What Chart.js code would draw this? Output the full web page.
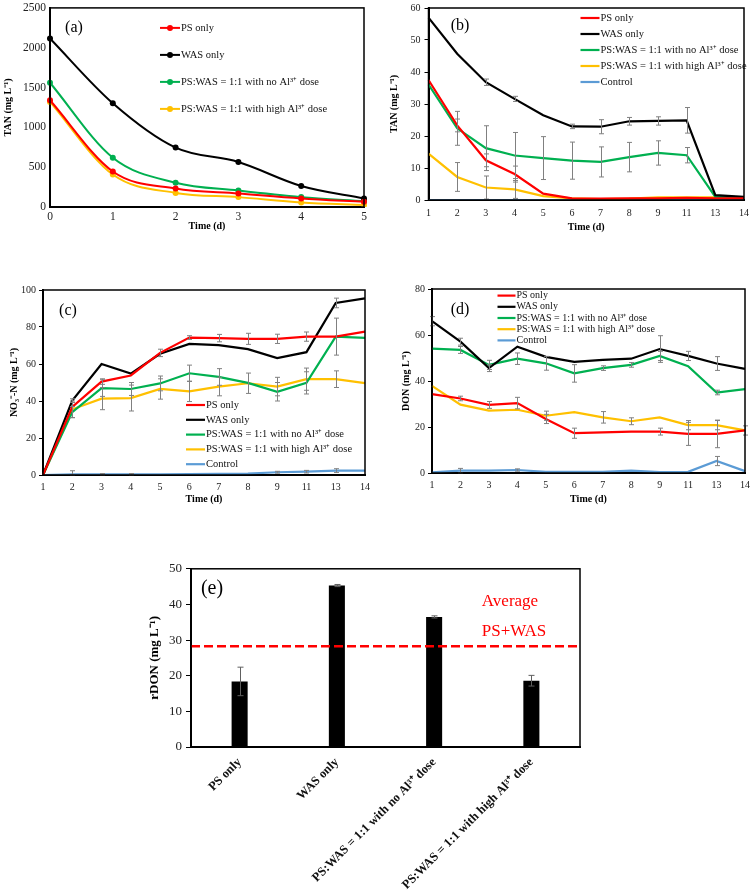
<!DOCTYPE html>
<html><head><meta charset="utf-8">
<script src="https://cdn.jsdelivr.net/npm/chart.js@4.4.1/dist/chart.umd.min.js"></script>
<style>
html,body{margin:0;padding:0;background:#fff;width:756px;height:891px;overflow:hidden;position:relative;}
canvas{position:absolute;}
.lbl{position:absolute;font-family:"Liberation Serif","Times New Roman",serif;color:#000;white-space:nowrap;line-height:1;transform:translate(-50%,-50%);}
</style></head><body>
<canvas id="ca" width="372" height="235" style="left:0px;top:-3px"></canvas>
<canvas id="cb" width="368" height="235" style="left:388px;top:-2px"></canvas>
<canvas id="cc" width="368" height="224" style="left:8px;top:281px"></canvas>
<canvas id="cd" width="356" height="225" style="left:400px;top:280px"></canvas>
<canvas id="ce" width="441" height="334" style="left:147px;top:557px"></canvas>
<div class="lbl" style="left:74px;top:27px;font-size:16px">(a)</div>
<div class="lbl" style="left:460px;top:25px;font-size:16px">(b)</div>
<div class="lbl" style="left:68px;top:310px;font-size:16px">(c)</div>
<div class="lbl" style="left:460px;top:309px;font-size:16px">(d)</div>
<div class="lbl" style="left:212px;top:587px;font-size:20px">(e)</div>
<div class="lbl" style="left:510px;top:600px;font-size:17px;color:#ff0000">Average</div>
<div class="lbl" style="left:514px;top:630px;font-size:17px;color:#ff0000">PS+WAS</div>
<script>
const FONT = '"Liberation Serif", "Times New Roman", Times, serif';
const C_PS = '#FF0000', C_WAS = '#000000', C_NOAL = '#00B050', C_HIGH = '#FFC000', C_CTRL = '#5B9BD5';
const seriesNames = ['PS only', 'WAS only', 'PS:WAS = 1:1 with no Al³⁺ dose', 'PS:WAS = 1:1 with high Al³⁺ dose', 'Control'];

// (a) TAN, days 0-5
const aDays = ['0', '1', '2', '3', '4', '5'];
const aPS = [1340, 446, 231, 170, 108, 66];
const aWAS = [2116, 1303, 746, 565, 264, 107];
const aNoAl = [1560, 619, 305, 206, 124, 74];
const aHighAl = [1320, 408, 177, 124, 58, 25];

// shared day categories for (b)(c)(d)
const days = ['1', '2', '3', '4', '5', '6', '7', '8', '9', '11', '13', '14'];

// (b) TAN
const bPS = [37.5, 23.3, 12.4, 8.1, 2.0, 0.5, 0.4, 0.5, 0.5, 0.7, 0.5, 0.5];
const bWAS = [57, 45.7, 36.8, 31.6, 26.5, 23.0, 22.9, 24.6, 24.7, 24.9, 1.5, 1.0];
const bNoAl = [36.1, 22.4, 16.2, 13.9, 13.1, 12.3, 11.9, 13.4, 14.7, 14.0, 1.0, 0.8];
const bHighAl = [14.5, 7.2, 3.9, 3.3, 1.2, 0.5, 0.3, 0.4, 0.8, 0.8, 0.8, 0.8];
const bCtrl = [0, 0, 0, 0, 0, 0, 0, 0, 0, 0, 0, 0];
const bPSErr = [null, 2, 2, 2.5, null, null, null, null, null, null, null, null];
const bWASErr = [null, null, 1, 0.8, null, 0.7, 2.2, 1.2, 1.3, 4, null, null];
const bNoAlErr = [null, 5.3, 7, 7.2, 6.7, 5.8, 4.7, 4.6, 3.8, 2.4, null, null];
const bHighAlErr = [null, 4.5, 3.6, 2.8, null, null, null, null, null, null, null, null];

// (c) NO3-N
const cPS = [0, 36.8, 50.5, 53.8, 66, 74.3, 74.0, 73.6, 73.6, 74.8, 74.8, 77.5];
const cWAS = [0, 40.2, 60, 54.8, 65.5, 70.9, 70.2, 68, 63.2, 66.4, 93, 95.5];
const cNoAl = [0, 34, 47, 46.5, 49.5, 55, 53, 49.8, 45, 49.8, 74.8, 74.1];
const cHighAl = [0, 35.5, 41.3, 41.6, 46.5, 45.2, 47.8, 49.6, 47.8, 51.8, 51.8, 49.7];
const cCtrl = [0, 0.3, 0.3, 0.3, 0.4, 0.5, 0.6, 0.7, 1.5, 1.8, 2.4, 2.4];
const cPSErr = [null, null, 1.5, null, 2, 1, 2, 3, 2.5, 2.5, null, null];
const cWASErr = [null, 1, null, null, null, null, null, null, null, null, 2.6, null];
const cNoAlErr = [null, 3, 4.5, 3.5, 4, 4.4, 4.5, null, 5, 6, 10, null];
const cHighAlErr = [null, 4.5, 6, 7, 5.5, 5.5, 5, 5.5, 5, 6, 4.5, null];
const cCtrlErr = [null, 2, 0.5, 0.5, null, null, null, null, 0.5, 0.7, 1, null];

// (d) DON
const dPS = [34.3, 32.4, 29.6, 30.4, 23.5, 17.3, 17.7, 18, 18, 17, 17, 18.5];
const dWAS = [66, 57.1, 45.6, 54.9, 50.5, 48.3, 49.2, 49.7, 53.9, 50.9, 47.6, 45.3];
const dNoAl = [54.1, 53.5, 47, 49.7, 47.7, 43.3, 45.6, 47, 50.9, 46.4, 35, 36.5];
const dHighAl = [37.9, 29.7, 27.1, 27.5, 24.9, 26.5, 24.2, 22.5, 24.2, 20.8, 20.8, 18.5];
const dCtrl = [0.3, 1, 1, 1.3, 0.5, 0.5, 0.5, 1, 0.4, 0.5, 5.2, 0.8];
const dPSErr = [null, 1, 1.5, 2.5, 2, 2.2, null, null, 1.5, 5, 6, null];
const dWASErr = [2, 1.5, 1.5, null, null, null, null, null, 5.8, 2, 3, null];
const dNoAlErr = [null, 1.5, 2, 2.5, 3, 3.8, 1, 1, 2, null, 1, null];
const dHighAlErr = [null, null, null, null, 2, null, 2.5, 1.5, null, 2, 2, 2];
const dCtrlErr = [null, 1, null, 0.5, null, null, null, null, null, null, 2, null];

// (e) rDON
const eCats = ['PS only', 'WAS only', 'PS:WAS = 1:1 with no Al³⁺ dose', 'PS:WAS = 1:1 with high Al³⁺ dose'];
const eVals = [18.4, 45.3, 36.5, 18.6];
const eErr = [4, 0.3, 0.3, 1.5];
const eAvg = 28.3;

// ---------- plugins ----------
const boxPlug = {
  id: 'boxPlug',
  afterDraw(chart) {
    const { ctx, chartArea: a } = chart;
    ctx.save(); ctx.strokeStyle = '#000'; ctx.lineWidth = 1.5;
    ctx.strokeRect(a.left, a.top, a.right - a.left, a.bottom - a.top);
    ctx.restore();
  }
};
const custLegend = {
  id: 'custLegend',
  afterDraw(chart, args, o) {
    if (!o || o.x === undefined) return;
    const { ctx, chartArea: a } = chart;
    ctx.save();
    ctx.font = o.font; ctx.textBaseline = 'middle'; ctx.textAlign = 'left';
    chart.data.datasets.forEach((ds, i) => {
      const y = a.top + o.y + i * o.gap;
      const x0 = a.left + o.x;
      ctx.strokeStyle = ds.borderColor; ctx.lineWidth = o.lw;
      ctx.beginPath(); ctx.moveTo(x0, y); ctx.lineTo(x0 + o.len, y); ctx.stroke();
      if (o.marker) {
        ctx.fillStyle = ds.borderColor; ctx.beginPath();
        ctx.arc(x0 + o.len / 2, y, o.marker, 0, Math.PI * 2); ctx.fill();
      }
      ctx.fillStyle = '#111'; ctx.fillText(ds.label, x0 + o.len + o.pad, y);
    });
    ctx.restore();
  }
};
const errBars = {
  id: 'errBars',
  afterDatasetsDraw(chart, args, o) {
    if (!o || !o.sets) return;
    const { ctx } = chart; const ys = chart.scales.y;
    ctx.save(); ctx.strokeStyle = o.color; ctx.lineWidth = o.lw || 1;
    o.sets.forEach((errs, i) => {
      if (!errs) return;
      const meta = chart.getDatasetMeta(i); const data = chart.data.datasets[i].data;
      errs.forEach((e, j) => {
        if (e == null) return;
        const el = meta.data[j]; const x = Math.round(el.x) + 0.5;
        const y1 = ys.getPixelForValue(data[j] + e);
        const y2 = ys.getPixelForValue(Math.max(data[j] - e, ys.min));
        ctx.beginPath();
        ctx.moveTo(x, y1); ctx.lineTo(x, y2);
        ctx.moveTo(x - o.cap, y1); ctx.lineTo(x + o.cap, y1);
        ctx.moveTo(x - o.cap, y2); ctx.lineTo(x + o.cap, y2);
        ctx.stroke();
      });
    });
    ctx.restore();
  }
};
const avgLine = {
  id: 'avgLine',
  afterDatasetsDraw(chart, args, o) {
    if (!o || o.value === undefined) return;
    const { ctx, chartArea: a } = chart; const y = chart.scales.y.getPixelForValue(o.value);
    ctx.save(); ctx.strokeStyle = '#FF0000'; ctx.lineWidth = 2.5; ctx.setLineDash([9, 4]);
    ctx.beginPath(); ctx.moveTo(a.left, y); ctx.lineTo(a.right, y); ctx.stroke();
    ctx.restore();
  }
};

function axisTitle(text, size) {
  return { display: true, text, font: { family: FONT, size, weight: 'bold' }, color: '#000', padding: 0 };
}
const plainNum = v => String(v);

function linePanel(id, labels, sets, cfg) {
  return new Chart(document.getElementById(id), {
    type: 'line',
    data: {
      labels,
      datasets: sets.map(s => ({
        label: s.label, data: s.data, borderColor: s.color, backgroundColor: s.color,
        borderWidth: cfg.lw, pointRadius: cfg.pr || 0, pointHoverRadius: 0,
        pointBackgroundColor: s.color, pointBorderWidth: 0, fill: false,
        tension: cfg.smooth ? 0.4 : 0, cubicInterpolationMode: cfg.smooth ? 'monotone' : 'default'
      }))
    },
    options: {
      responsive: false, animation: false, events: [],
      layout: { padding: cfg.pad },
      plugins: {
        legend: { display: false }, tooltip: { enabled: false },
        custLegend: cfg.legend,
        errBars: { sets: sets.map(s => s.err || null), color: '#808080', cap: 2.5, lw: 1 }
      },
      scales: {
        x: {
          type: 'category', offset: false,
          afterFit: s => { s.height = cfg.xH; },
          grid: { display: false, drawTicks: false },
          border: { display: true, color: '#000', width: 2 },
          ticks: { font: { family: FONT, size: cfg.tick }, color: '#222', padding: cfg.xPad, maxRotation: 0, autoSkip: false },
          title: axisTitle('Time (d)', 10)
        },
        y: {
          min: cfg.yMin, max: cfg.yMax,
          afterFit: s => { s.width = cfg.yW; },
          grid: { display: cfg.yTick > 0, drawOnChartArea: false, drawTicks: cfg.yTick > 0, tickLength: cfg.yTick, color: '#000', lineWidth: 1 },
          border: { display: true, color: '#000', width: 2 },
          ticks: { stepSize: cfg.yStep, font: { family: FONT, size: cfg.tick }, color: '#222', padding: cfg.yPad, callback: plainNum },
          title: axisTitle(cfg.yTitle, 10)
        }
      }
    },
    plugins: [errBars, custLegend, boxPlug]
  });
}

// (a)
linePanel('ca', aDays, [
  { label: seriesNames[0], color: C_PS, data: aPS },
  { label: seriesNames[1], color: C_WAS, data: aWAS },
  { label: seriesNames[2], color: C_NOAL, data: aNoAl },
  { label: seriesNames[3], color: C_HIGH, data: aHighAl }
], {
  lw: 2, pr: 3, smooth: true, pad: { top: 8, right: 8, left: 2, bottom: 0 },
  xH: 25, yW: 48, tick: 11.5, xPad: 3, yPad: 4, yTick: 0,
  yMin: 0, yMax: 2500, yStep: 500, yTitle: 'TAN (mg L⁻¹)',
  legend: { x: 110, y: 20, gap: 27, len: 20, pad: 1, lw: 2, marker: 3, font: '10.5px ' + FONT }
});

// (b)
linePanel('cb', days, [
  { label: seriesNames[0], color: C_PS, data: bPS, err: bPSErr },
  { label: seriesNames[1], color: C_WAS, data: bWAS, err: bWASErr },
  { label: seriesNames[2], color: C_NOAL, data: bNoAl, err: bNoAlErr },
  { label: seriesNames[3], color: C_HIGH, data: bHighAl, err: bHighAlErr },
  { label: seriesNames[4], color: C_CTRL, data: bCtrl }
], {
  lw: 2.2, pad: { top: 8, right: 8, left: 0, bottom: 0 },
  xH: 33, yW: 40.5, tick: 10, xPad: 7, yPad: 4, yTick: 4,
  yMin: 0, yMax: 60, yStep: 10, yTitle: 'TAN (mg L⁻¹)',
  legend: { x: 152, y: 10, gap: 16, len: 19, pad: 1, lw: 2.2, font: '10.5px ' + FONT }
});

// (c)
linePanel('cc', days, [
  { label: seriesNames[0], color: C_PS, data: cPS, err: cPSErr },
  { label: seriesNames[1], color: C_WAS, data: cWAS, err: cWASErr },
  { label: seriesNames[2], color: C_NOAL, data: cNoAl, err: cNoAlErr },
  { label: seriesNames[3], color: C_HIGH, data: cHighAl, err: cHighAlErr },
  { label: seriesNames[4], color: C_CTRL, data: cCtrl, err: cCtrlErr }
], {
  lw: 2.2, pad: { top: 8, right: 8, left: 0, bottom: 0 },
  xH: 30, yW: 35, tick: 10, xPad: 6, yPad: 3, yTick: 4,
  yMin: 0, yMax: 100, yStep: 20, yTitle: 'NO₃⁻-N (mg L⁻¹)',
  legend: { x: 143, y: 115, gap: 14.8, len: 19, pad: 1, lw: 2.2, font: '10.5px ' + FONT }
});

// (d)
linePanel('cd', days, [
  { label: seriesNames[0], color: C_PS, data: dPS, err: dPSErr },
  { label: seriesNames[1], color: C_WAS, data: dWAS, err: dWASErr },
  { label: seriesNames[2], color: C_NOAL, data: dNoAl, err: dNoAlErr },
  { label: seriesNames[3], color: C_HIGH, data: dHighAl, err: dHighAlErr },
  { label: seriesNames[4], color: C_CTRL, data: dCtrl, err: dCtrlErr }
], {
  lw: 2.2, pad: { top: 8, right: 7, left: 0, bottom: 0 },
  xH: 32, yW: 32, tick: 10, xPad: 6, yPad: 3, yTick: 4,
  yMin: 0, yMax: 80, yStep: 20, yTitle: 'DON (mg L⁻¹)',
  legend: { x: 65.5, y: 6.6, gap: 11.2, len: 18, pad: 1, lw: 2.2, font: '10px ' + FONT }
});

// (e)
new Chart(document.getElementById('ce'), {
  type: 'bar',
  data: {
    labels: eCats,
    datasets: [{ label: 'rDON', data: eVals, backgroundColor: '#000', borderWidth: 0, barPercentage: 0.165, categoryPercentage: 1 }]
  },
  options: {
    responsive: false, animation: false, events: [],
    layout: { padding: { top: 10, right: 8, left: 0, bottom: 0 } },
    plugins: {
      legend: { display: false }, tooltip: { enabled: false },
      errBars: { sets: [eErr], color: '#606060', cap: 3, lw: 1 },
      avgLine: { value: eAvg }
    },
    scales: {
      x: {
        offset: true,
        afterFit: s => { s.height = 144; },
        grid: { display: false, drawTicks: false },
        border: { display: true, color: '#000', width: 2 },
        ticks: { font: { family: FONT, size: 12.5, weight: 'bold' }, color: '#111', minRotation: 45, maxRotation: 45, autoSkip: false, padding: 8 }
      },
      y: {
        min: 0, max: 50,
        afterFit: s => { s.width = 44; },
        grid: { display: true, drawOnChartArea: false, drawTicks: true, tickLength: 5, color: '#000', lineWidth: 1 },
        border: { display: true, color: '#000', width: 2 },
        ticks: { stepSize: 10, font: { family: FONT, size: 13 }, color: '#222', padding: 4, callback: plainNum },
        title: axisTitle('rDON (mg L⁻¹)', 13)
      }
    }
  },
  plugins: [errBars, avgLine, boxPlug]
});
</script>
</body></html>
